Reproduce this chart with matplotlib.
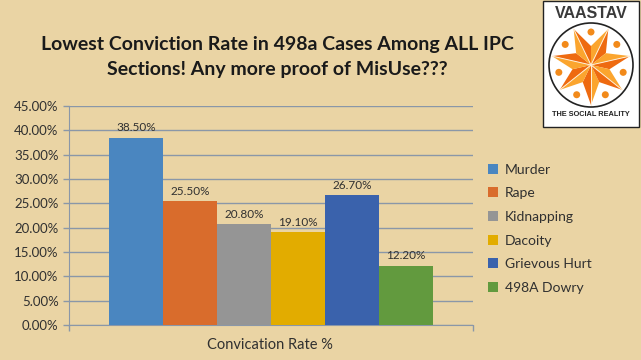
import matplotlib
matplotlib.use("Agg")
import matplotlib.pyplot as plt
import numpy as np
from matplotlib.ticker import PercentFormatter
from matplotlib.patches import Rectangle, Circle, Polygon

# data
crimes = ['Murder', 'Rape', 'Kidnapping', 'Dacoity', 'Grievous Hurt', '498A Dowry']
rates = [38.5, 25.5, 20.8, 19.1, 26.7, 12.2]
colors = ['#4A86C0', '#D96C2C', '#959595', '#E2AC00', '#3A62AC', '#629A3E']
yticks = [0, 5, 10, 15, 20, 25, 30, 35, 40, 45]
category = 'Convication Rate %'
title = 'Lowest Conviction Rate in 498a Cases Among ALL IPC\nSections! Any more proof of MisUse???'

bg = '#EAD4A4'
grid_c = '#8A97A8'
txt_c = '#303030'

fig = plt.figure(figsize=(6.41, 3.6), dpi=100, facecolor=bg)
ax = fig.add_axes([69/641, 1-325/360, 404/641, 219/360])
ax.set_facecolor('none')

w = 0.8 / len(rates)
for i, (name, val, col) in enumerate(zip(crimes, rates, colors)):
    b = ax.bar((i - (len(rates)-1)/2) * w, val, width=w, color=col, label=name, zorder=3)
    ax.bar_label(b, labels=[f'{val:.2f}%'], padding=3, fontsize=8.5,
                 color=txt_c, family='Lato')

ax.set_xlim(-0.5, 0.5)
ax.set_ylim(0, 45)
ax.set_yticks(yticks)
ax.yaxis.set_major_formatter(PercentFormatter(decimals=2))
ax.grid(axis='y', color=grid_c, lw=1, zorder=0)
ax.set_xticks([-0.5, 0.5])
ax.set_xticklabels(['', ''])
ax.tick_params(axis='both', color=grid_c, length=4, width=1)
ax.tick_params(axis='y', labelsize=9.5, labelcolor=txt_c)
for t in ax.get_yticklabels():
    t.set_family('Lato')
for s in ['top', 'right']:
    ax.spines[s].set_visible(False)
for s in ['left', 'bottom']:
    ax.spines[s].set_color(grid_c)

fig.text(270/641, 1-345/360, category, ha='center', va='center',
         fontsize=10.5, color=txt_c, family='Lato')

leg = fig.legend(loc='upper left', bbox_to_anchor=(475/641, 1-151/360),
                 frameon=False, handlelength=0.75, handleheight=0.75,
                 handletextpad=0.5, labelspacing=0.84, prop={'family': 'Lato', 'size': 10})
for t in leg.get_texts():
    t.set_color(txt_c)

fig.text(277/641, 1-57/360, title, ha='center', va='center', fontsize=14,
         fontweight='bold', color='#1A1A1A', family='Lato', linespacing=1.55)

# logo
lg = fig.add_axes([0, 0, 1, 1], zorder=10)
lg.set_xlim(0, 641)
lg.set_ylim(360, 0)
lg.axis('off')
lg.add_patch(Rectangle((543, 1), 96, 126, facecolor='white', edgecolor='#222222', lw=1))
lg.text(591, 13, 'VAASTAV', ha='center', va='center', fontsize=11.5,
        fontweight='bold', color='#3A3A3A', family='Liberation Sans')
lg.text(591, 115, 'THE SOCIAL REALITY', ha='center', va='center', fontsize=5.3,
        fontweight='bold', color='#222222', family='Liberation Sans')
cx, cy = 591, 65
lg.add_patch(Circle((cx, cy), 42, facecolor='white', edgecolor='#222222', lw=1.2))
n = 7
R, r = 40, 19
step = 2 * np.pi / n
for k in range(n):
    a = np.pi/2 + k * step
    tip = (cx + R*np.cos(a), cy + R*np.sin(a))
    l = (cx + r*np.cos(a - step/2), cy + r*np.sin(a - step/2))
    rr = (cx + r*np.cos(a + step/2), cy + r*np.sin(a + step/2))
    lg.add_patch(Polygon([(cx, cy), l, tip], facecolor='#FBA52E', edgecolor='none'))
    lg.add_patch(Polygon([(cx, cy), tip, rr], facecolor='#EE6A10', edgecolor='none'))
    lg.plot([cx, tip[0]], [cy, tip[1]], color='#FFF0D8', lw=0.7)
    d = a + step/2
    lg.add_patch(Circle((cx + 33*np.cos(d), cy + 33*np.sin(d)), 3.5,
                        facecolor='#F28A1A', edgecolor='none'))

fig.savefig('out.png', dpi=100, facecolor=bg)
